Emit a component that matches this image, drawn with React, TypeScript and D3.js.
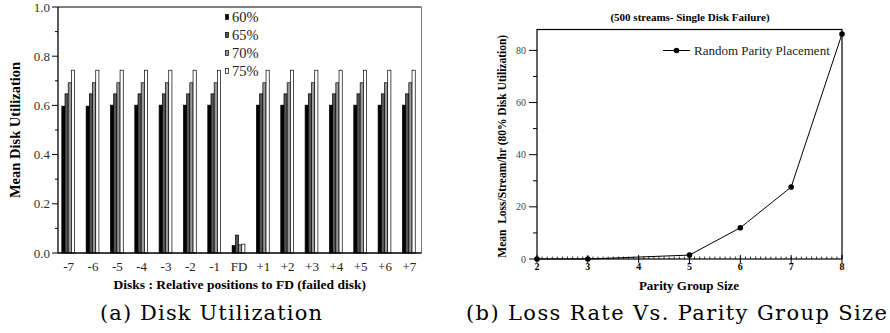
import React from 'react';
import * as d3 from 'd3';

// left chart: disk utilization per position relative to failed disk
const positions = ['-7', '-6', '-5', '-4', '-3', '-2', '-1', 'FD', '+1', '+2', '+3', '+4', '+5', '+6', '+7'];
const loadLabels = ['60%', '65%', '70%', '75%'];
const util60 = [0.597, 0.597, 0.601, 0.601, 0.601, 0.601, 0.601, 0.03, 0.601, 0.601, 0.601, 0.601, 0.601, 0.601, 0.601];
const util65 = [0.647, 0.647, 0.647, 0.647, 0.647, 0.647, 0.647, 0.073, 0.647, 0.647, 0.647, 0.647, 0.647, 0.647, 0.647];
const util70 = [0.692, 0.692, 0.692, 0.692, 0.692, 0.692, 0.692, 0.033, 0.692, 0.692, 0.692, 0.692, 0.692, 0.692, 0.692];
const util75 = [0.743, 0.743, 0.743, 0.743, 0.743, 0.743, 0.743, 0.036, 0.743, 0.743, 0.743, 0.743, 0.743, 0.743, 0.743];
const yTicksA = [0, 0.2, 0.4, 0.6, 0.8, 1.0];

// right chart: loss rate vs parity group size
const groupSize = [2, 3, 5, 6, 7, 8];
const lossRate = [0, 0, 1.5, 12, 27.6, 86.3];
const xTicksB = [2, 3, 4, 5, 6, 7, 8];
const yTicksB = [0, 20, 40, 60, 80];

const series = [util60, util65, util70, util75];
const fills = ['#000', '#555', '#999', '#fff'];
const serif = '"Liberation Serif", "Times New Roman", serif';
const capFont = '"DejaVu Serif", serif';

function ChartA() {
  const left = 58, right = 421.5, top = 7, bottom = 253;
  const x = d3.scaleLinear().domain([-0.44, 14.5]).range([left, right]);
  const y = d3.scaleLinear().domain([0, 1]).range([bottom, top]);
  const bw = 3.2;
  const minor = d3.range(0, 1.01, 0.1);
  return (
    <g>
      {series.map((vals, s) =>
        vals.map((v, i) => (
          <rect key={s + '-' + i}
            x={x(i) - 2 * bw + s * bw - 0.5} y={y(v)} width={bw} height={y(0) - y(v)}
            fill={fills[s]} stroke="#000" strokeWidth={0.7} />
        ))
      )}
      <line x1={left} x2={right} y1={top} y2={top} stroke="#000" strokeWidth={1} />
      <line x1={right} x2={right} y1={top} y2={bottom} stroke="#777" strokeWidth={1} />
      <line x1={left} x2={right} y1={bottom} y2={bottom} stroke="#000" strokeWidth={1.3} />
      <line x1={left} x2={left} y1={top} y2={bottom} stroke="#000" strokeWidth={1.3} />
      {minor.map((t, i) => (
        <line key={'m' + i} x1={left - (i % 2 === 0 ? 6 : 3)} x2={left} y1={y(t)} y2={y(t)} stroke="#000" strokeWidth={1} />
      ))}
      {yTicksA.map(t => (
        <text key={t} x={left - 8} y={y(t) + 4.5} textAnchor="end" fontFamily={serif} fontSize={13} fill="#333">{d3.format('.1f')(t)}</text>
      ))}
      {positions.map((p, i) => (
        <text key={p} x={x(i)} y={271} textAnchor="middle" fontFamily={serif} fontSize={13} fill="#222">{p}</text>
      ))}
      {loadLabels.map((l, s) => (
        <g key={l}>
          <rect x={225.5} y={14.5 + s * 18} width={3} height={5} fill={fills[s]} stroke="#000" strokeWidth={0.7} />
          <text x={232} y={21.5 + s * 18} fontFamily={serif} fontSize={14.5} fill="#222">{l}</text>
        </g>
      ))}
      <text transform={`translate(20,${(top + bottom) / 2}) rotate(-90)`} textAnchor="middle" fontFamily={serif} fontSize={14.5} fontWeight="bold">Mean Disk Utilization</text>
      <text x={(left + right) / 2} y={289} textAnchor="middle" fontFamily={serif} fontSize={13.5} fontWeight="bold">Disks : Relative positions to FD (failed disk)</text>
      <text x={100} y={320} fontFamily={capFont} fontSize={21} textLength={222} lengthAdjust="spacing">(a) Disk Utilization</text>
    </g>
  );
}

function ChartB() {
  const left = 537, right = 842, top = 29.5, bottom = 259;
  const x = d3.scaleLinear().domain([2, 8]).range([left, right]);
  const y = d3.scaleLinear().domain([0, 88]).range([bottom, top]);
  const line = d3.line<number>().x((d, i) => x(groupSize[i])).y(d => y(d));
  const minorX = d3.range(2, 8.001, 0.1);
  const minorY = d3.range(0, 81, 10);
  return (
    <g>
      <rect x={left} y={top} width={right - left} height={bottom - top} fill="none" stroke="#000" strokeWidth={1.2} />
      {minorX.map((t, i) => (
        <line key={'mx' + i} x1={x(t)} x2={x(t)} y1={bottom} y2={bottom - 2.5} stroke="#000" strokeWidth={0.8} />
      ))}
      {xTicksB.map(t => (
        <g key={t}>
          <line x1={x(t)} x2={x(t)} y1={bottom - 4} y2={bottom + 4} stroke="#000" strokeWidth={1} />
          <text x={x(t)} y={270} textAnchor="middle" fontFamily={serif} fontSize={10} fontWeight="bold">{t}</text>
        </g>
      ))}
      {minorY.map(t => (
        <line key={'my' + t} x1={left - (t % 20 === 0 ? 8 : 4)} x2={left} y1={y(t)} y2={y(t)} stroke="#000" strokeWidth={1} />
      ))}
      {yTicksB.map(t => (
        <text key={t} x={left - 11} y={y(t) + 3.5} textAnchor="end" fontFamily={serif} fontSize={10} fill="#444">{t}</text>
      ))}
      <path d={line(lossRate) || ''} fill="none" stroke="#000" strokeWidth={1} />
      {lossRate.map((v, i) => (
        <circle key={i} cx={x(groupSize[i])} cy={y(v)} r={2.8} fill="#000" />
      ))}
      <line x1={663} x2={690} y1={50.5} y2={50.5} stroke="#000" strokeWidth={1} />
      <circle cx={676.5} cy={50.5} r={2.8} fill="#000" />
      <text x={694} y={55} fontFamily={serif} fontSize={13} fill="#222">Random Parity Placement</text>
      <text x={690} y={20.5} textAnchor="middle" fontFamily={serif} fontSize={11} fontWeight="bold">(500 streams- Single Disk Failure)</text>
      <text transform={`translate(506,${(top + bottom) / 2 + 2}) rotate(-90)`} textAnchor="middle" fontFamily={serif} fontSize={11.5} fontWeight="bold" xmlSpace="preserve">Mean  Loss/Stream/hr (80% Disk Utilization)</text>
      <text x={689} y={290} textAnchor="middle" fontFamily={serif} fontSize={13} fontWeight="bold">Parity Group Size</text>
      <text x={466} y={320} fontFamily={capFont} fontSize={21} textLength={421} lengthAdjust="spacing">(b) Loss Rate Vs. Parity Group Size</text>
    </g>
  );
}

export default function App() {
  return (
    <svg width={890} height={333} style={{ position: 'absolute', left: 0, top: 0, background: '#fff' }}>
      <rect width={890} height={333} fill="#fff" />
      <ChartA />
      <ChartB />
    </svg>
  );
}
